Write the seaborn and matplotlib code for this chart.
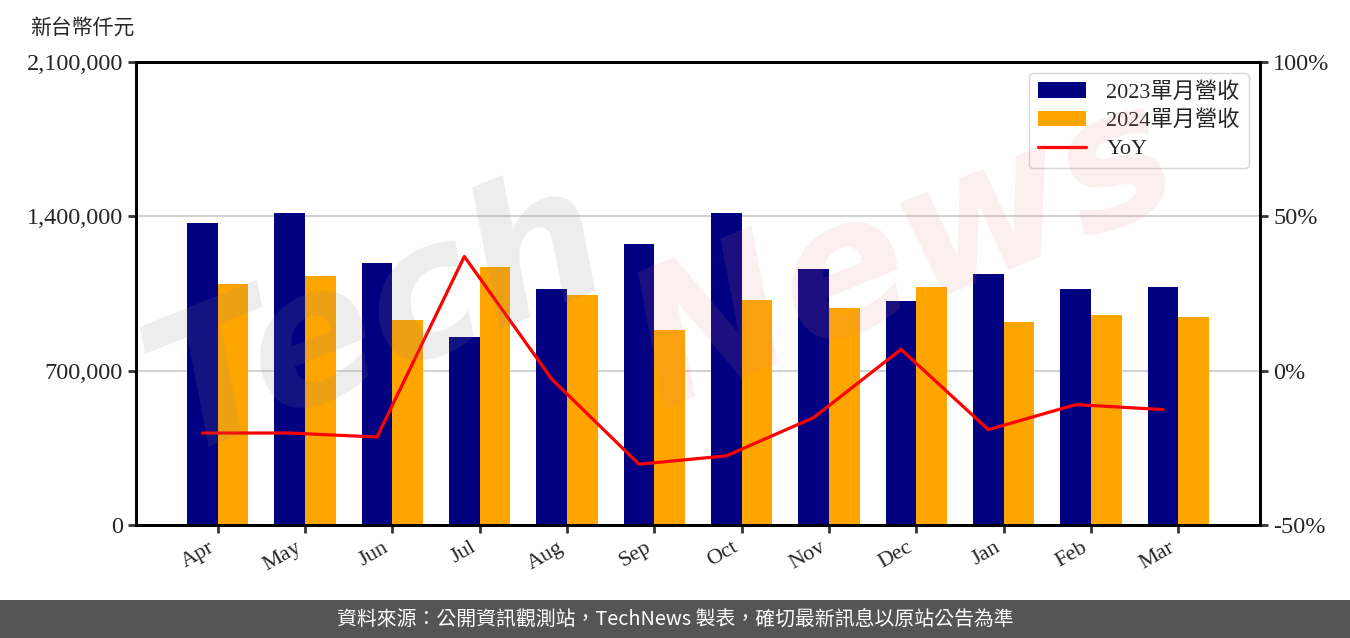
import numpy as np
import pandas as pd
import matplotlib
matplotlib.use("Agg")
import matplotlib.pyplot as plt
from matplotlib.patches import Rectangle
import seaborn as sns

# === Data ===
months = ["Apr", "May", "Jun", "Jul", "Aug", "Sep", "Oct", "Nov", "Dec", "Jan", "Feb", "Mar"]
rev_2023 = [1370000, 1415000, 1188000, 853000, 1070000, 1274000,
            1415000, 1161000, 1016000, 1138000, 1070000, 1079000]
rev_2024 = [1093000, 1129000, 930000, 1170000, 1043000, 884000,
            1020000, 984000, 1079000, 921000, 952000, 943000]
yoy = [-20.2, -20.2, -21.5, 37.0, -2.7, -30.3,
       -27.6, -15.2, 6.9, -19.1, -11.0, -12.6]
series_names = ["2023單月營收", "2024單月營收"]

df = pd.DataFrame({
    "month": months * 2,
    "revenue": rev_2023 + rev_2024,
    "series": [series_names[0]] * 12 + [series_names[1]] * 12,
})

# === Style ===
sns.set_style("ticks")
plt.rcParams["font.family"] = ["Liberation Serif", "Noto Sans CJK TC", "DejaVu Sans"]

fig = plt.figure(figsize=(13.5, 6.38), dpi=100)
ax = fig.add_axes([0.1007, 0.1771, 0.8326, 0.7257])

sns.barplot(data=df, x="month", y="revenue", hue="series", order=months,
            hue_order=series_names, palette=["#000080", "#FFA500"],
            width=0.7, gap=0, saturation=1, errorbar=None,
            edgecolor="none", linewidth=0, ax=ax)

ax.set_xlim(-0.935, 11.935)
ax.set_ylim(0, 2100000)
ax.set_yticks([0, 700000, 1400000, 2100000])
ax.set_yticklabels(["0", "700,000", "1,400,000", "2,100,000"], fontsize=17.5)
ax.yaxis.grid(True, color="#d3d3d3", linewidth=1.5)
ax.set_axisbelow(True)
ax.set_xlabel("")
ax.set_ylabel("")
ax.tick_params(axis="x", labelsize=16, length=6, width=2, color="#333333")
ax.tick_params(axis="y", length=6, width=2, color="#333333")
plt.setp(ax.get_xticklabels(), rotation=30, ha="right")
for sp in ax.spines.values():
    sp.set_linewidth(2)
    sp.set_color("black")

handles, labels = ax.get_legend_handles_labels()
if ax.get_legend() is not None:
    ax.get_legend().remove()

# === YoY line on twin axis ===
ax2 = ax.twinx()
sns.lineplot(x=np.arange(len(months)) - 0.175, y=yoy, color="red",
             linewidth=2.3, ax=ax2, label="YoY")
ax2.set_ylim(-50, 100)
ax2.set_yticks([-50, 0, 50, 100])
ax2.set_yticklabels(["-50%", "0%", "50%", "100%"], fontsize=17.5)
ax2.tick_params(axis="y", length=6, width=2, color="#333333")
for sp in ax2.spines.values():
    sp.set_linewidth(2)
    sp.set_color("black")
h2, l2 = ax2.get_legend_handles_labels()
ax2.legend(handles + h2, labels + l2, loc="upper right", fontsize=16,
           handlelength=2.2, borderpad=0.4, labelspacing=0.35, handletextpad=0.9)

fig.text(0.022, 0.955, "新台幣仟元", fontsize=15, ha="left", va="center")

# watermark
fig.text(0.28, 0.5, "Tech", rotation=22, fontsize=135, color="#888888", alpha=0.15,
         fontweight="bold", style="italic", ha="center", va="center",
         family="DejaVu Sans")
fig.text(0.67, 0.6, "News", rotation=22, fontsize=135, color="#e08080", alpha=0.13,
         fontweight="bold", style="italic", ha="center", va="center",
         family="DejaVu Sans")

# footer
fig.patches.append(Rectangle((0, 0), 1, 38 / 638, transform=fig.transFigure,
                             facecolor="#555555", edgecolor="none", zorder=0))
fig.text(0.5, 0.03, "資料來源：公開資訊觀測站，TechNews 製表，確切最新訊息以原站公告為準",
         color="white", fontsize=14.3, ha="center", va="center",
         family=["Noto Sans CJK TC", "DejaVu Sans"])

fig.savefig("out.png", dpi=100)
